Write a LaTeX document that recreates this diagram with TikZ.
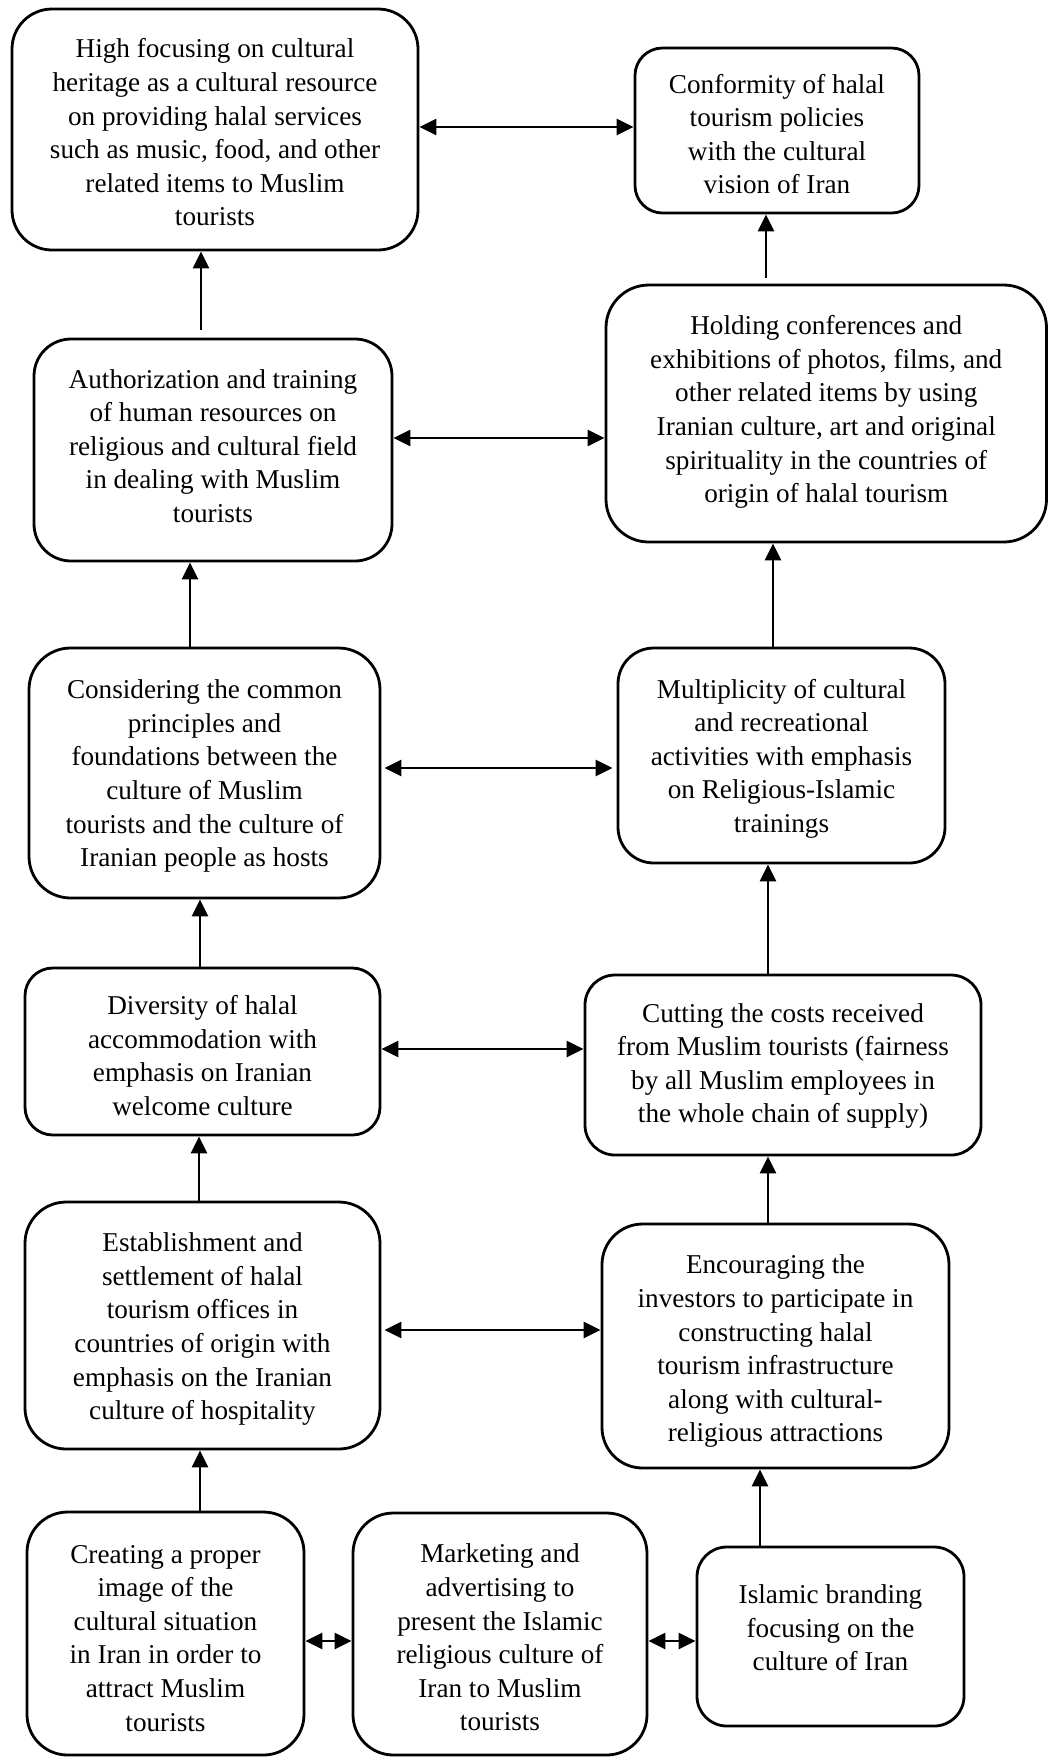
\documentclass[tikz,border=0pt]{standalone}
\usepackage{fontspec}
\setmainfont{Liberation Serif}
\usetikzlibrary{arrows.meta}
% text block: lines in a tabular (uniform line boxes), moved down by #1 (keeping its reported size)
\newcommand{\boxtext}[2]{\raisebox{-#1}[\height][\depth]{\begin{tabular}{@{}c@{}}#2\end{tabular}}}
\begin{document}
\begin{tikzpicture}[x=0.5pt,y=-0.5pt,
  box/.style={draw, line width=1.4pt, inner sep=0pt,
    font=\fontsize{13.6pt}{16.8pt}\selectfont},
  arr/.style={line width=1.4pt, -{Triangle[length=8.5pt,width=8pt]}},
  darr/.style={line width=1.4pt, {Triangle[length=8.5pt,width=8pt]}-{Triangle[length=8.5pt,width=8pt]}}]
\useasboundingbox (0,0) rectangle (1048,1758);

\node[box, minimum width=203pt, minimum height=120.5pt, rounded corners=20pt] (b1) at (215,129.5)
 {\boxtext{2.84pt}{High focusing on cultural\\heritage as a cultural resource\\on providing halal services\\such as music, food, and other\\related items to Muslim\\tourists}};
\node[box, minimum width=142pt, minimum height=82.5pt, rounded corners=13.75pt] (b2) at (777,130.5)
 {\boxtext{3.09pt}{Conformity of halal\\tourism policies\\with the cultural\\vision of Iran}};
\node[box, minimum width=179pt, minimum height=111pt, rounded corners=18.5pt] (b3) at (213,450)
 {\boxtext{-0.76pt}{Authorization and training\\of human resources on\\religious and cultural field\\in dealing with Muslim\\tourists}};
\node[box, minimum width=220.25pt, minimum height=128.5pt, rounded corners=21.4pt] (b4) at (826.25,413.5)
 {\boxtext{-0.76pt}{Holding conferences and\\exhibitions of photos, films, and\\other related items by using\\Iranian culture, art and original\\spirituality in the countries of\\origin of halal tourism}};
\node[box, minimum width=175.5pt, minimum height=125pt, rounded corners=20.8pt] (b5) at (204.5,773)
 {\boxtext{1.49pt}{Considering the common\\principles and\\foundations between the\\culture of Muslim\\tourists and the culture of\\Iranian people as hosts}};
\node[box, minimum width=163.5pt, minimum height=107.5pt, rounded corners=17.9pt] (b6) at (781.5,755.5)
 {\boxtext{1.49pt}{Multiplicity of cultural\\and recreational\\activities with emphasis\\on Religious-Islamic\\trainings}};
\node[box, minimum width=177.5pt, minimum height=83.5pt, rounded corners=13.9pt] (b7) at (202.5,1051.5)
 {\boxtext{3.39pt}{Diversity of halal\\accommodation with\\emphasis on Iranian\\welcome culture}};
\node[box, minimum width=198pt, minimum height=90pt, rounded corners=15pt] (b8) at (783,1065)
 {\boxtext{0.34pt}{Cutting the costs received\\from Muslim tourists (fairness\\by all Muslim employees in\\the whole chain of supply)}};
\node[box, minimum width=177.5pt, minimum height=123.5pt, rounded corners=20.6pt] (b9) at (202.5,1325.5)
 {\boxtext{1.74pt}{Establishment and\\settlement of halal\\tourism offices in\\countries of origin with\\emphasis on the Iranian\\culture of hospitality}};
\node[box, minimum width=173.5pt, minimum height=122pt, rounded corners=20.3pt] (b10) at (775.5,1346)
 {\boxtext{2.59pt}{Encouraging the\\investors to participate in\\constructing halal\\tourism infrastructure\\along with cultural-\\religious attractions}};
\node[box, minimum width=138.5pt, minimum height=121.5pt, rounded corners=20.3pt] (b11) at (165.5,1633.5)
 {\boxtext{3.39pt}{Creating a proper\\image of the\\cultural situation\\in Iran in order to\\attract Muslim\\tourists}};
\node[box, minimum width=147pt, minimum height=121pt, rounded corners=20.2pt] (b12) at (500,1634)
 {\boxtext{3.09pt}{Marketing and\\advertising to\\present the Islamic\\religious culture of\\Iran to Muslim\\tourists}};
\node[box, minimum width=133.5pt, minimum height=89.5pt, rounded corners=14.9pt] (b13) at (830.5,1636.5)
 {\boxtext{-3.1pt}{Islamic branding\\focusing on the\\culture of Iran}};

% guide coordinates for the connectors
\coordinate (xa1) at (201,0);
\coordinate (ya2) at (0,127);
\coordinate (xa3) at (766,0);
\coordinate (ya4) at (0,438);
\coordinate (xa5) at (190,0);
\coordinate (xa6) at (773,0);
\coordinate (ya7) at (0,768);
\coordinate (xa8) at (200,0);
\coordinate (xa9) at (768,0);
\coordinate (ya10) at (0,1049);
\coordinate (xa11) at (199,0);
\coordinate (xa12) at (768,0);
\coordinate (ya13) at (0,1330);
\coordinate (xa14) at (200,0);
\coordinate (xa15) at (760,0);
\coordinate (ya16) at (0,1641);

\draw[arr, shorten <=4pt] (b3.north -| xa1) -- (b1.south -| xa1);
\draw[darr] (b1.east |- ya2) -- (b2.west |- ya2);
\draw[arr, shorten <=3pt] (b4.north -| xa3) -- (b2.south -| xa3);
\draw[darr] (b3.east |- ya4) -- (b4.west |- ya4);
\draw[arr] (b5.north -| xa5) -- (b3.south -| xa5);
\draw[arr] (b6.north -| xa6) -- (b4.south -| xa6);
\draw[darr, shorten <=1.5pt, shorten >=2pt] (b5.east |- ya7) -- (b6.west |- ya7);
\draw[arr] (b7.north -| xa8) -- (b5.south -| xa8);
\draw[arr] (b8.north -| xa9) -- (b6.south -| xa9);
\draw[darr] (b7.east |- ya10) -- (b8.west |- ya10);
\draw[arr] (b9.north -| xa11) -- (b7.south -| xa11);
\draw[arr] (b10.north -| xa12) -- (b8.south -| xa12);
\draw[darr, shorten <=1.5pt] (b9.east |- ya13) -- (b10.west |- ya13);
\draw[arr] (b11.north -| xa14) -- (b9.south -| xa14);
\draw[arr] (b13.north -| xa15) -- (b10.south -| xa15);
\draw[darr] (b11.east |- ya16) -- (b12.west |- ya16);
\draw[darr] (b12.east |- ya16) -- (b13.west |- ya16);
\end{tikzpicture}
\end{document}
